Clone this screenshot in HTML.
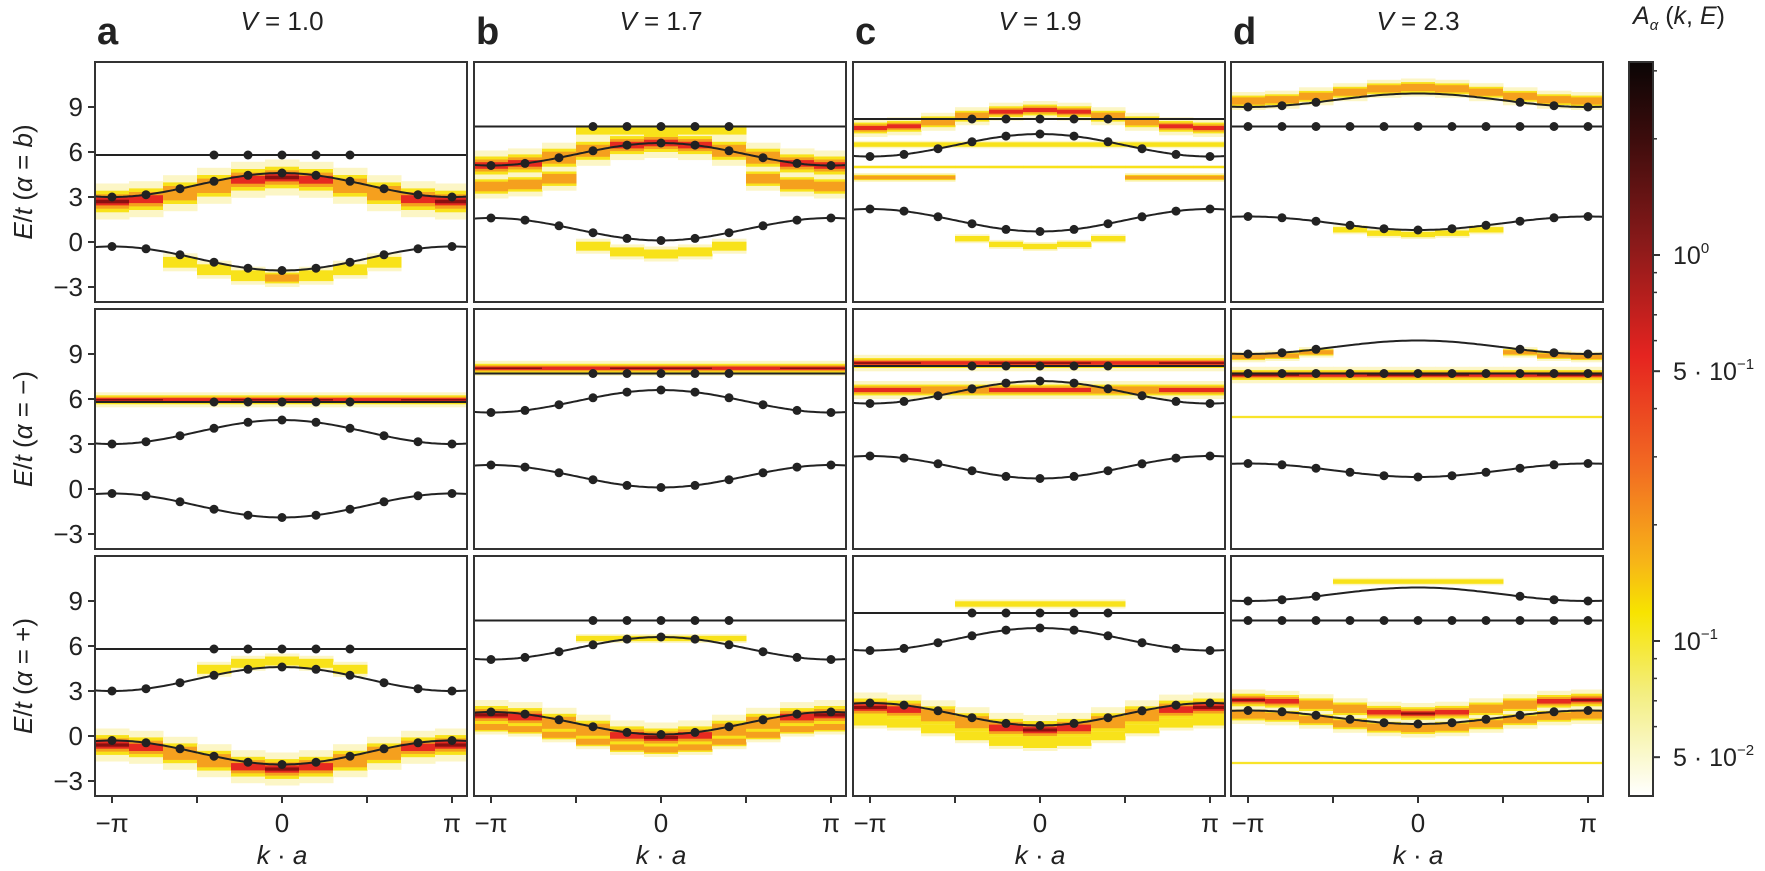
<!DOCTYPE html>
<html><head><meta charset="utf-8"><style>
html,body{margin:0;padding:0;background:#fff;}
svg{display:block;font-family:"Liberation Sans",sans-serif;}
</style></head><body>
<svg id="s" width="1765" height="871" viewBox="0 0 1765 871" xmlns="http://www.w3.org/2000/svg">
<defs>
<linearGradient id="cb" x1="0" y1="0" x2="0" y2="1">
<stop offset="0" stop-color="#0a0505"/>
<stop offset="0.1" stop-color="#3a0c0c"/>
<stop offset="0.25" stop-color="#8b1a1a"/>
<stop offset="0.4" stop-color="#e52420"/>
<stop offset="0.55" stop-color="#f26a22"/>
<stop offset="0.68" stop-color="#f7b418"/>
<stop offset="0.75" stop-color="#f7e400"/>
<stop offset="0.86" stop-color="#f3ee80"/>
<stop offset="1" stop-color="#ffffff"/>
</linearGradient>
</defs>
</svg>
<script>
(function(){
var s=document.getElementById('s'),P=Math.PI;
var L=[95,474,853,1231],W=372,T=[62,309,556],H=240;
var out='';
function xk(k,c){return L[c]+17+(k+P)/(2*P)*340;}
function yE(E,r){return T[r]+(12-E)*15;}
function cosf(e,c){return function(k){return (e+c)/2+(c-e)/2*Math.cos(k);};}
var cols=[
 {up:cosf(3.0,4.6),low:cosf(-0.3,-1.9),fl:5.8,V:'1.0',lt:'a'},
 {up:cosf(5.1,6.6),low:cosf(1.6,0.1),fl:7.7,V:'1.7',lt:'b'},
 {up:cosf(5.7,7.2),low:cosf(2.2,0.7),fl:8.2,V:'1.9',lt:'c'},
 {up:cosf(9.0,9.9),low:cosf(1.7,0.8),fl:7.7,V:'2.3',lt:'d'}];
var ac=Math.abs;
function C(k){return ac(Math.cos(k));}
function cen(k){return ac(k)<0.45*P;}
function edge(k){return ac(k)>0.55*P;}
var F=[[
 function(k){var c=cols[0];var f=[[c.up(k)-0.3,1.2,0.5+0.4*C(k)]];if(ac(k)<0.7*P)f.push([c.low(k)-0.5,0.6,0.3+0.35*(ac(k)<0.1?1:0)]);return f;},
 function(k){var c=cols[1];var f=[[c.up(k),1.0,0.5+0.35*C(k)]];if(edge(k))f.push([c.up(k)-1.4,0.8,0.6]);if(cen(k))f.push([7.4,0.4,0.4],[c.low(k)-0.9,0.5,0.3]);return f;},
 function(k){var c=cols[2];var f=[[8.2+0.6*Math.cos(k),0.6,0.5+0.3*C(k)],[6.5,0.25,0.45],[5.0,0.12,0.35]];if(edge(k))f.push([4.3,0.3,0.6]);if(cen(k))f.push([c.low(k)-1.0,0.3,0.3]);return f;},
 function(k){var c=cols[3];var f=[[c.up(k)+0.4,0.6,0.5]];if(cen(k))f.push([c.low(k)-0.3,0.3,0.3]);return f;}
],[
 function(k){return [[5.95,0.5,0.8+0.15*C(k)]];},
 function(k){return [[8.05,0.5,0.8+0.15*C(k)]];},
 function(k){return [[8.4,0.55,0.75+0.15*C(k)],[6.6,0.6,0.55+0.2*C(k)]];},
 function(k){var c=cols[3];var f=[[7.6,0.55,0.75+0.15*C(k)],[4.8,0.1,0.35]];if(edge(k))f.push([c.up(k)-0.2,0.35,0.6]);return f;}
],[
 function(k){var c=cols[0];var f=[[c.low(k)-0.3,1.1,0.55+0.3*C(k)]];if(cen(k))f.push([c.up(k)+0.4,0.5,0.35]);return f;},
 function(k){var c=cols[1];var f=[[c.low(k)-0.2,1.0,0.55+0.3*C(k)],[c.low(k)-1.0,0.5,0.5]];if(cen(k))f.push([6.5,0.3,0.25]);return f;},
 function(k){var c=cols[2];var f=[[c.low(k)-0.3,1.0,0.55+0.3*C(k)],[c.low(k)-1.2,0.5,0.45]];if(cen(k))f.push([8.8,0.3,0.3]);return f;},
 function(k){var c=cols[3];var f=[[c.low(k)+0.7,0.7,0.55+0.3*C(k)],[c.low(k)-0.3,0.6,0.6],[-1.8,0.1,0.3]];if(cen(k))f.push([10.3,0.25,0.3]);return f;}
]];
var layers=[[1,0,'#fcf6c6'],[0.6,0.2,'#f8e21a'],[0.4,0.45,'#f5a01e'],[0.22,0.65,'#e62a20'],[0.1,0.85,'#8a1010']];
for(var r=0;r<3;r++)for(var c=0;c<4;c++){
 out+='<clipPath id="cp'+r+c+'"><rect x="'+L[c]+'" y="'+T[r]+'" width="'+W+'" height="'+H+'"/></clipPath>';
 out+='<g clip-path="url(#cp'+r+c+')">';
 for(var i=0;i<11;i++){var k=-P+i*0.2*P;var x=xk(k,c)-17;var fs=F[r][c](k);
  for(var li=0;li<layers.length;li++){var la=layers[li];
   fs.forEach(function(f){if(f[2]>la[1]){var hw=f[1]*la[0];out+='<rect x="'+x.toFixed(1)+'" y="'+yE(f[0]+hw,r).toFixed(1)+'" width="34.5" height="'+(hw*30).toFixed(1)+'" fill="'+la[2]+'"/>';}});
  }}
 var co=cols[c];
 function curve(fn){var d='';for(var j=0;j<=120;j++){var k=-1.1*P+j*2.2*P/120;d+=(j?'L':'M')+xk(k,c).toFixed(1)+' '+yE(fn(k),r).toFixed(1);}out+='<path d="'+d+'" fill="none" stroke="#222" stroke-width="2"/>';}
 curve(co.up);curve(co.low);
 out+='<line x1="'+L[c]+'" x2="'+(L[c]+W)+'" y1="'+yE(co.fl,r)+'" y2="'+yE(co.fl,r)+'" stroke="#222" stroke-width="2"/>';
 for(var i=0;i<11;i++){var k=-P+i*0.2*P,x=xk(k,c).toFixed(1);
  if(c<3||ac(k)>0.5*P)out+='<circle cx="'+x+'" cy="'+yE(co.up(k),r).toFixed(1)+'" r="4.5" fill="#222"/>';
  out+='<circle cx="'+x+'" cy="'+yE(co.low(k),r).toFixed(1)+'" r="4.5" fill="#222"/>';
  if(c==3||ac(k)<0.5*P)out+='<circle cx="'+x+'" cy="'+yE(co.fl,r)+'" r="4.5" fill="#222"/>';}
 out+='</g><rect x="'+L[c]+'" y="'+T[r]+'" width="'+W+'" height="'+H+'" fill="none" stroke="#333" stroke-width="2"/>';
 if(c==0){[9,6,3,0,-3].forEach(function(v){var y=yE(v,r);out+='<line x1="'+(L[0]-7)+'" x2="'+L[0]+'" y1="'+y+'" y2="'+y+'" stroke="#333" stroke-width="2"/><text x="'+(L[0]-12)+'" y="'+(y+9)+'" font-size="26" text-anchor="end" fill="#222">'+(v<0?'\u2212'+(-v):v)+'</text>';});
  var lab=['b','\u2212','+'][r];
  out+='<text transform="translate(32,'+(T[r]+H/2)+') rotate(-90)" font-size="26" text-anchor="middle" fill="#222"><tspan font-style="italic">E</tspan>/<tspan font-style="italic">t</tspan> (<tspan font-style="italic">\u03b1</tspan> = '+(r==0?'<tspan font-style="italic">b</tspan>':lab)+')</text>';}
 if(r==2){var yb=T[2]+H;[-1,-0.5,0,0.5,1].forEach(function(m){var x=xk(m*P,c);out+='<line x1="'+x+'" x2="'+x+'" y1="'+yb+'" y2="'+(yb+7)+'" stroke="#333" stroke-width="2"/>';
   if(m!=0.5&&m!=-0.5)out+='<text x="'+x+'" y="'+(yb+36)+'" font-size="26" text-anchor="middle" fill="#222">'+(m==-1?'\u2212\u03c0':m==0?'0':'\u03c0')+'</text>';});
  out+='<text x="'+xk(0,c)+'" y="864" font-size="26" text-anchor="middle" fill="#222" font-style="italic">k <tspan font-style="normal">\u00b7</tspan> a</text>';}
 if(r==0){out+='<text x="'+xk(0,c)+'" y="30" font-size="26" text-anchor="middle" fill="#222"><tspan font-style="italic">V</tspan> = '+co.V+'</text>';
  out+='<text x="'+(L[c]+2)+'" y="44" font-size="38" font-weight="bold" fill="#222">'+co.lt+'</text>';}
}
var cy0=62,cy1=796;
out+='<rect x="1629" y="'+cy0+'" width="24" height="'+(cy1-cy0)+'" fill="url(#cb)" stroke="#333" stroke-width="2"/>';
function ly(v){return 255+(0-Math.log10(v))*386;}
var mt=[3,2,0.9,0.8,0.7,0.6,0.5,0.4,0.3,0.2,0.09,0.08,0.07,0.06,0.05];
mt.forEach(function(v){var y=ly(v);if(y>cy0&&y<cy1)out+='<line x1="1653" x2="1657" y1="'+y+'" y2="'+y+'" stroke="#333" stroke-width="1.5"/>';});
[[1,'10<tspan font-size="15" dy="-11">0</tspan>'],[0.5,'5 \u00b7 10<tspan font-size="15" dy="-11">\u22121</tspan>'],[0.1,'10<tspan font-size="15" dy="-11">\u22121</tspan>'],[0.05,'5 \u00b7 10<tspan font-size="15" dy="-11">\u22122</tspan>']].forEach(function(t){var y=ly(t[0]);out+='<line x1="1653" x2="1660" y1="'+y+'" y2="'+y+'" stroke="#333" stroke-width="2"/><text x="1673" y="'+(y+9)+'" font-size="25" fill="#222">'+t[1]+'</text>';});
out+='<text x="1633" y="24" font-size="25" fill="#222" font-style="italic">A<tspan font-size="15" dy="6">\u03b1</tspan><tspan dy="-6" font-style="normal"> (</tspan>k<tspan font-style="normal">, </tspan>E<tspan font-style="normal">)</tspan></text>';
s.insertAdjacentHTML('beforeend',out);
})();
</script>
</body></html>
